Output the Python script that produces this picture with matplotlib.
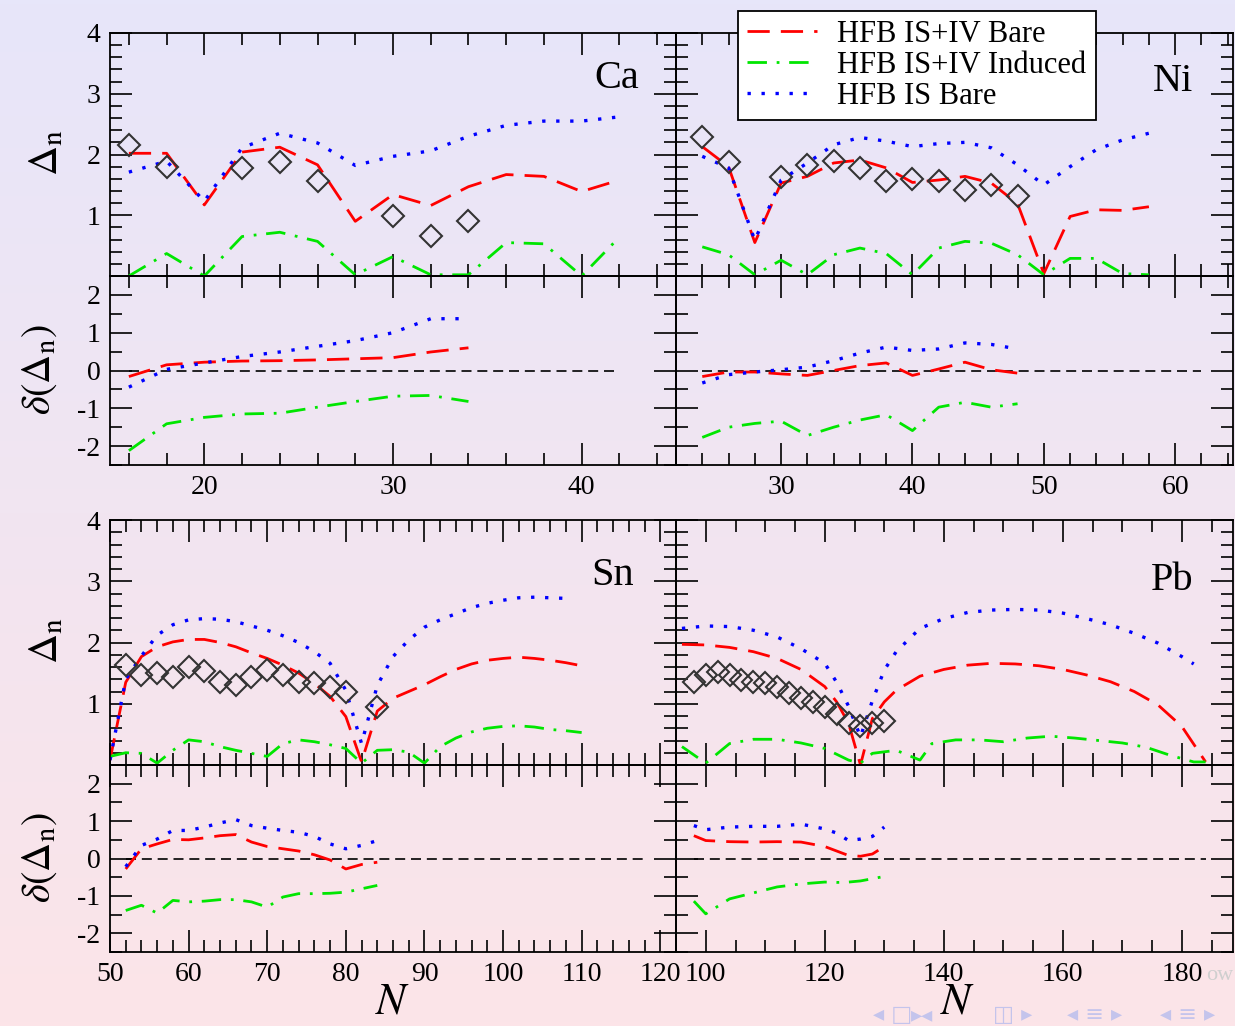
import numpy as np
import matplotlib
matplotlib.use('Agg')
import matplotlib.pyplot as plt
from matplotlib.ticker import MultipleLocator, FixedLocator

plt.rcParams['font.family'] = ['Liberation Serif', 'DejaVu Sans']
plt.rcParams['mathtext.fontset'] = 'stix'
plt.rcParams['axes.unicode_minus'] = False

labels = ['HFB IS+IV Bare', 'HFB IS+IV Induced', 'HFB IS Bare']

# ---- Ca
ca_n = [16, 18, 20, 22, 24, 26, 28, 30, 32, 34, 36, 38, 40, 42]
ca_bare = [2.02, 2.02, 1.17, 2.04, 2.12, 1.83, 0.90, 1.34, 1.16, 1.47, 1.67, 1.64, 1.39, 1.58]
ca_ind = [0.0, 0.37, 0.0, 0.65, 0.72, 0.57, 0.02, 0.32, 0.02, 0.02, 0.55, 0.53, 0.0, 0.64]
ca_is = [1.71, 1.89, 1.23, 2.11, 2.35, 2.19, 1.82, 1.97, 2.06, 2.30, 2.48, 2.55, 2.55, 2.62]
ca_exp_n = [16, 18, 22, 24, 26, 30, 32, 34]
ca_exp = [2.16, 1.80, 1.77, 1.88, 1.56, 0.99, 0.66, 0.91]
ca_dn = [16, 18, 20, 22, 24, 26, 28, 30, 32, 34]
ca_d_bare = [-0.16, 0.15, 0.22, 0.25, 0.26, 0.28, 0.31, 0.34, 0.49, 0.60]
ca_d_ind = [-2.12, -1.41, -1.24, -1.15, -1.13, -0.97, -0.82, -0.68, -0.66, -0.82]
ca_d_is = [-0.44, 0.03, 0.20, 0.37, 0.49, 0.64, 0.79, 1.00, 1.37, 1.37]
ca_zero = [16, 42]

# ---- Ni
ni_n = [24, 26, 28, 30, 32, 34, 36, 38, 40, 42, 44, 46, 48, 50, 52, 54, 56, 58]
ni_bare = [2.13, 1.80, 0.55, 1.53, 1.64, 1.86, 1.91, 1.78, 1.54, 1.58, 1.64, 1.53, 1.19, 0.04,
           0.98, 1.09, 1.08, 1.14]
ni_ind = [0.48, 0.35, 0.02, 0.26, 0.02, 0.35, 0.46, 0.37, 0.02, 0.46, 0.57, 0.54, 0.35, 0.02,
          0.29, 0.29, 0.04, 0.02]
ni_is = [1.97, 1.78, 0.59, 1.58, 1.86, 2.16, 2.28, 2.22, 2.13, 2.18, 2.20, 2.11, 1.83, 1.50,
         1.80, 2.08, 2.24, 2.35]
ni_exp_n = [24, 26, 30, 32, 34, 36, 38, 40, 42, 44, 46, 48]
ni_exp = [2.29, 1.87, 1.63, 1.82, 1.90, 1.78, 1.57, 1.60, 1.56, 1.42, 1.49, 1.31]
ni_dn = [24, 26, 28, 30, 32, 34, 36, 38, 40, 42, 44, 46, 48]
ni_d_bare = [-0.16, -0.04, -0.04, -0.09, -0.13, 0.0, 0.13, 0.20, -0.13, 0.04, 0.22, 0.02, -0.07]
ni_d_ind = [-1.77, -1.50, -1.40, -1.34, -1.72, -1.50, -1.31, -1.17, -1.59, -0.97, -0.84, -0.97, -0.88]
ni_d_is = [-0.33, -0.11, -0.04, 0.02, 0.09, 0.26, 0.46, 0.62, 0.53, 0.57, 0.73, 0.69, 0.57]
ni_zero = [24, 62]

# ---- Sn
sn_n = list(range(50, 112, 2))
sn_bare = [0.08, 1.35, 1.77, 1.93, 2.01, 2.05, 2.05, 2.00, 1.93, 1.83, 1.74, 1.63, 1.50, 1.33,
           1.12, 0.79, 0.05, 0.88, 1.09, 1.20, 1.31, 1.44, 1.56, 1.65, 1.71, 1.74, 1.76, 1.74,
           1.71, 1.67, 1.62]
sn_ind = [0.14, 0.20, 0.19, 0.03, 0.24, 0.41, 0.38, 0.30, 0.24, 0.19, 0.14, 0.35, 0.41, 0.38,
          0.33, 0.27, 0.03, 0.24, 0.25, 0.21, 0.03, 0.30, 0.44, 0.54, 0.60, 0.63, 0.64, 0.62,
          0.58, 0.56, 0.53]
sn_is_n = list(range(50, 110, 2))
sn_is = [0.08, 1.40, 1.78, 2.12, 2.29, 2.37, 2.39, 2.38, 2.34, 2.27, 2.20, 2.11, 2.00, 1.85,
         1.66, 1.22, 0.35, 1.30, 1.77, 2.04, 2.25, 2.37, 2.47, 2.57, 2.64, 2.69, 2.73, 2.74,
         2.73, 2.72]
sn_exp_n = [52, 54, 56, 58, 60, 62, 64, 66, 68, 70, 72, 74, 76, 78, 80, 84]
sn_exp = [1.64, 1.47, 1.50, 1.44, 1.60, 1.53, 1.36, 1.31, 1.44, 1.55, 1.47, 1.36, 1.34, 1.28,
          1.20, 0.94]
sn_dn = list(range(52, 86, 2))
sn_d_bare = [-0.28, 0.26, 0.39, 0.51, 0.50, 0.55, 0.61, 0.64, 0.44, 0.32, 0.26, 0.20, 0.10,
             -0.04, -0.28, -0.16, -0.10]
sn_d_ind = [-1.39, -1.25, -1.46, -1.12, -1.16, -1.14, -1.10, -1.10, -1.16, -1.30, -1.03, -0.94,
            -0.94, -0.93, -0.90, -0.81, -0.72]
sn_d_is = [-0.22, 0.35, 0.52, 0.75, 0.75, 0.84, 0.95, 1.04, 0.88, 0.81, 0.75, 0.70, 0.59, 0.39,
           0.26, 0.35, 0.48]
sn_zero = [52, 118]

# ---- Pb
pb_n = [96, 100, 104, 108, 112, 116, 120, 122, 124, 126, 128, 130, 132, 136, 140, 144, 148,
        152, 156, 160, 164, 168, 172, 176, 180, 184]
pb_bare = [1.97, 1.96, 1.92, 1.85, 1.74, 1.56, 1.28, 1.03, 0.68, 0.0, 0.76, 1.03, 1.22, 1.45,
           1.56, 1.63, 1.66, 1.65, 1.62, 1.56, 1.47, 1.36, 1.20, 0.98, 0.63, 0.05]
pb_ind_n = [96, 100, 104, 108, 112, 116, 120, 124, 126, 128, 132, 136, 138, 142, 146, 150, 154,
            158, 162, 166, 170, 174, 178, 182, 184]
pb_ind = [0.30, 0.03, 0.35, 0.42, 0.42, 0.36, 0.27, 0.08, 0.03, 0.19, 0.24, 0.08, 0.35, 0.41,
          0.41, 0.38, 0.44, 0.47, 0.44, 0.40, 0.36, 0.29, 0.16, 0.05, 0.05]
pb_is_n = [96, 100, 104, 108, 112, 116, 120, 122, 124, 126, 128, 130, 132, 136, 140, 144, 148,
           152, 156, 160, 164, 168, 172, 176, 180, 182]
pb_is = [2.23, 2.27, 2.26, 2.20, 2.09, 1.90, 1.66, 1.35, 0.96, 0.46, 1.05, 1.55, 1.85, 2.23,
         2.39, 2.49, 2.53, 2.54, 2.53, 2.48, 2.39, 2.29, 2.15, 1.99, 1.77, 1.65]
pb_exp_n = list(range(98, 132, 2))
pb_exp = [1.36, 1.47, 1.52, 1.47, 1.39, 1.36, 1.34, 1.28, 1.17, 1.09, 1.03, 0.95, 0.84, 0.68,
          0.64, 0.68, 0.72]
pb_dn = [98, 100, 104, 108, 112, 116, 120, 122, 124, 126, 128, 130]
pb_d_bare = [0.61, 0.48, 0.45, 0.44, 0.45, 0.44, 0.32, 0.20, 0.08, 0.06, 0.12, 0.32]
pb_d_ind = [-1.14, -1.48, -1.08, -0.92, -0.76, -0.68, -0.63, -0.64, -0.63, -0.60, -0.54, -0.48]
pb_d_is = [0.88, 0.77, 0.84, 0.86, 0.86, 0.92, 0.79, 0.68, 0.48, 0.52, 0.59, 0.84]
pb_zero = [98, 184]

red = dict(color='#ff0000', lw=2.0, dashes=(8, 4))
green = dict(color='#00e600', lw=2.0, dashes=(7, 3.5, 1, 3.5))
blue = dict(color='#0000ff', lw=2.4, dashes=(1, 3.2))
zero = dict(color='black', lw=1.2, dashes=(6, 3.5))
diam = dict(ls='none', marker='D', ms=11.5, mfc='none', mec='#333333', mew=1.5)

W, H = 1235, 1026
fig = plt.figure(figsize=(W/100, H/100), dpi=100)

# background gradient
bg = fig.add_axes([0, 0, 1, 1], zorder=-10)
top = np.array([231, 230, 250]) / 255
bot = np.array([252, 228, 232]) / 255
t = np.linspace(0, 1, 256)[:, None]
grad = top[None, :] * (1 - t) + bot[None, :] * t
bg.imshow(grad[:, None, :], aspect='auto', extent=[0, 1, 0, 1])
bg.axis('off')


def px_axes(x0, x1, y0, y1):
    return fig.add_axes([x0/W, 1 - y1/H, (x1-x0)/W, (y1-y0)/H])


def style(ax, xlim, ylim, xmaj, xmin, yticks, ymin, xlab, ylab):
    ax.set_facecolor('none')
    ax.set_xlim(xlim)
    ax.set_ylim(ylim)
    ax.xaxis.set_major_locator(MultipleLocator(xmaj))
    ax.xaxis.set_minor_locator(MultipleLocator(xmin))
    ax.yaxis.set_major_locator(FixedLocator(yticks))
    ax.yaxis.set_minor_locator(MultipleLocator(ymin))
    ax.tick_params(which='both', direction='in', top=True, right=True, width=1.2,
                   labelsize=20, pad=7, labelbottom=xlab, labelleft=ylab)
    ax.tick_params(which='major', length=16)
    ax.tick_params(which='minor', length=8.5)
    for s in ax.spines.values():
        s.set_linewidth(1.3)


cols = [(110, 676), (676, 1233)]
rows = [(33, 276, 465), (520, 765, 952)]
panels = [
    ('Ca', (15, 45), 10, 2, ca_n, ca_bare, ca_n, ca_ind, ca_n, ca_is, ca_exp_n, ca_exp,
     ca_dn, ca_d_bare, ca_d_ind, ca_d_is, ca_zero, 0.935, 3.1),
    ('Ni', (22, 64.4), 10, 2, ni_n, ni_bare, ni_n, ni_ind, ni_n, ni_is, ni_exp_n, ni_exp,
     ni_dn, ni_d_bare, ni_d_ind, ni_d_is, ni_zero, 0.929, 3.04),
    ('Sn', (50, 122), 10, 2, sn_n, sn_bare, sn_n, sn_ind, sn_is_n, sn_is, sn_exp_n, sn_exp,
     sn_dn, sn_d_bare, sn_d_ind, sn_d_is, sn_zero, 0.926, 2.94),
    ('Pb', (95, 188.6), 20, 5, pb_n, pb_bare, pb_ind_n, pb_ind, pb_is_n, pb_is, pb_exp_n, pb_exp,
     pb_dn, pb_d_bare, pb_d_ind, pb_d_is, pb_zero, 0.929, 2.86),
]

handles = None
for i, p in enumerate(panels):
    (name, xlim, xmaj, xmin, nb, vb, ng, vg, nbl, vbl, ne, ve,
     dn, db, dg, dbl, nz, tx, ty) = p
    r, c = divmod(i, 2)
    x0, x1 = cols[c]
    ya, yb, yc = rows[r]
    ax = px_axes(x0, x1, ya, yb)
    style(ax, xlim, (0, 4), xmaj, xmin, [1, 2, 3, 4], 0.2, False, c == 0)
    h1, = ax.plot(nb, vb, **red)
    h2, = ax.plot(ng, vg, **green)
    h3, = ax.plot(nbl, vbl, **blue)
    ax.plot(ne, ve, **diam)
    ax.text(tx, ty, name, transform=ax.get_yaxis_transform(), ha='right',
            va='baseline', fontsize=29)
    if handles is None:
        handles = [h1, h2, h3]

    axd = px_axes(x0, x1, yb, yc)
    style(axd, xlim, (-2.5, 2.5), xmaj, xmin, [-2, -1, 0, 1, 2], 0.5, True, c == 0)
    axd.plot(nz, [0, 0], **zero)
    axd.plot(dn, db, **red)
    axd.plot(dn, dg, **green)
    axd.plot(dn, dbl, **blue)

for yc_ in (153, 641):
    fig.text(47/W, 1 - yc_/H, r'$\Delta_\mathrm{n}$', rotation=90, ha='center', va='center',
             fontsize=30)
for yc_ in (370, 858):
    fig.text(40/W, 1 - yc_/H, r'$\delta(\Delta_\mathrm{n})$', rotation=90, ha='center',
             va='center', fontsize=29)
for xc in (393, 958):
    fig.text(xc/W, 1 - 1003/H, r'$N$', ha='center', va='center', fontsize=32)

leg = fig.legend(handles, labels, loc='upper left', bbox_to_anchor=(738/W, 1 - 11/H),
                 fontsize=22, handlelength=2.3, handletextpad=0.65, labelspacing=0.06,
                 borderpad=0.3, borderaxespad=0, fancybox=False, framealpha=1,
                 edgecolor='black')
leg.get_frame().set_linewidth(1.3)

# faded slide decorations
fig.text(1206/W, 1 - 975/H, 'ow', fontsize=16, color='#cfcfcf', va='center')
nav = [(893, '◂ □'), (922, '▸◂'), (1013, '◫ ▸'), (1095, '◂ ≡ ▸'), (1188, '◂ ≡ ▸')]
for xn, s in nav:
    fig.text(xn/W, 1 - 1015/H, s, fontsize=16, color='#c4c4ec', ha='center', va='center',
             family='DejaVu Sans')

fig.savefig('out.png', dpi=100)
